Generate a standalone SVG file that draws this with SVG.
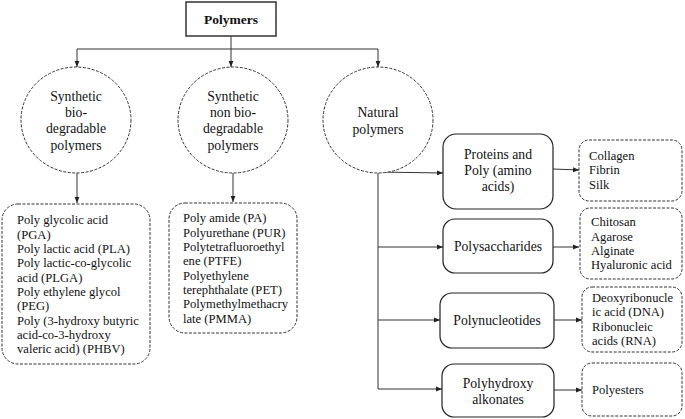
<svg xmlns="http://www.w3.org/2000/svg" width="685" height="419" viewBox="0 0 685 419" font-family="'Liberation Serif', 'Times New Roman', 'DejaVu Serif', serif">
<defs>
<marker id="ah" viewBox="0 0 10 10" refX="10" refY="5" markerWidth="6" markerHeight="6" orient="auto" markerUnits="userSpaceOnUse">
<path d="M0,1 L10,5 L0,9 z" fill="#222"/>
</marker>
<style>
text{font-family:'Liberation Serif','Times New Roman','DejaVu Serif',serif;fill:#111}
.c{font-size:13.7px;text-anchor:middle}
.l{font-size:12.6px}
.ell{fill:#fff;stroke:#333;stroke-width:1;stroke-dasharray:3 1.5}
.dbox{fill:#fff;stroke:#333;stroke-width:1;stroke-dasharray:3 1.5}
.sbox{fill:#fff;stroke:#222;stroke-width:1.2}
.ln{fill:none;stroke:#333;stroke-width:1}
</style>
</defs>
<rect width="685" height="419" fill="#fff"/>
<g id="connectors">
<path class="ln" d="M231,36 V49"/>
<path class="ln" d="M77,49 H378"/>
<path class="ln" d="M77,49 V67" marker-end="url(#ah)"/>
<path class="ln" d="M231,49 V67" marker-end="url(#ah)"/>
<path class="ln" d="M378,49 V67" marker-end="url(#ah)"/>
<path class="ln" d="M77,173 V203" marker-end="url(#ah)"/>
<path class="ln" d="M233,173 V202" marker-end="url(#ah)"/>
<path class="ln" d="M378,172 V389"/>
<path class="ln" d="M378,172 L443,173" marker-end="url(#ah)"/>
<path class="ln" d="M378,247 H443" marker-end="url(#ah)"/>
<path class="ln" d="M378,320 H440" marker-end="url(#ah)"/>
<path class="ln" d="M378,389 H442" marker-end="url(#ah)"/>
<path class="ln" d="M553,169 L579,170" marker-end="url(#ah)"/>
<path class="ln" d="M553,247 H579" marker-end="url(#ah)"/>
<path class="ln" d="M554,320 H582" marker-end="url(#ah)"/>
<path class="ln" d="M554,390 H582" marker-end="url(#ah)"/>
</g>
<g id="polymers">
<rect x="186" y="2" width="90" height="34" fill="#fff" stroke="#333" stroke-width="1.5"/>
<text x="231" y="24" font-size="13.5" font-weight="bold" text-anchor="middle">Polymers</text>
</g>
<g id="synthetic-bio">
<ellipse class="ell" cx="76" cy="120" rx="55" ry="53"/>
<text class="c" x="76" y="101">Synthetic</text>
<text class="c" x="76" y="117">bio-</text>
<text class="c" x="76" y="133">degradable</text>
<text class="c" x="76" y="150">polymers</text>
</g>
<g id="synthetic-nonbio">
<ellipse class="ell" cx="233" cy="120" rx="55" ry="53"/>
<text class="c" x="233" y="101">Synthetic</text>
<text class="c" x="233" y="117">non bio-</text>
<text class="c" x="233" y="133">degradable</text>
<text class="c" x="233" y="150">polymers</text>
</g>
<g id="natural">
<ellipse class="ell" cx="378" cy="120" rx="55" ry="53"/>
<text class="c" x="378" y="117">Natural</text>
<text class="c" x="378" y="134">polymers</text>
</g>
<g id="bio-list">
<rect class="dbox" x="2" y="204" width="148" height="160" rx="16"/>
<text class="l" x="17" y="224">Poly glycolic acid</text>
<text class="l" x="17" y="238.5">(PGA)</text>
<text class="l" x="17" y="253">Poly lactic acid (PLA)</text>
<text class="l" x="17" y="267">Poly lactic-co-glycolic</text>
<text class="l" x="17" y="281.5">acid (PLGA)</text>
<text class="l" x="17" y="296">Poly ethylene glycol</text>
<text class="l" x="17" y="310">(PEG)</text>
<text class="l" x="17" y="324.5">Poly (3-hydroxy butyric</text>
<text class="l" x="17" y="339">acid-co-3-hydroxy</text>
<text class="l" x="17" y="353">valeric acid) (PHBV)</text>
</g>
<g id="nonbio-list">
<rect class="dbox" x="169" y="203" width="128" height="130" rx="16"/>
<text class="l" x="183" y="222">Poly amide (PA)</text>
<text class="l" x="183" y="236.5">Polyurethane (PUR)</text>
<text class="l" x="183" y="251">Polytetrafluoroethyl</text>
<text class="l" x="183" y="265">ene (PTFE)</text>
<text class="l" x="183" y="279.5">Polyethylene</text>
<text class="l" x="183" y="294">terephthalate (PET)</text>
<text class="l" x="183" y="308">Polymethylmethacry</text>
<text class="l" x="183" y="322.5">late (PMMA)</text>
</g>
<g id="proteins">
<rect class="sbox" x="443" y="134" width="110" height="75" rx="13"/>
<text class="c" x="498" y="159">Proteins and</text>
<text class="c" x="498" y="175">Poly (amino</text>
<text class="c" x="498" y="191">acids)</text>
</g>
<g id="proteins-list">
<rect class="dbox" x="579" y="140" width="103" height="61" rx="10"/>
<text class="l" x="589" y="159.5">Collagen</text>
<text class="l" x="589" y="174">Fibrin</text>
<text class="l" x="589" y="188.5">Silk</text>
</g>
<g id="polysaccharides">
<rect class="sbox" x="443" y="219" width="110" height="54" rx="12"/>
<text class="c" x="498" y="251">Polysaccharides</text>
</g>
<g id="polysaccharides-list">
<rect class="dbox" x="580" y="208" width="102" height="71" rx="10"/>
<text class="l" x="591" y="226">Chitosan</text>
<text class="l" x="591" y="240.5">Agarose</text>
<text class="l" x="591" y="255">Alginate</text>
<text class="l" x="591" y="269">Hyaluronic acid</text>
</g>
<g id="polynucleotides">
<rect class="sbox" x="440" y="293" width="114" height="55" rx="12"/>
<text class="c" x="497" y="325">Polynucleotides</text>
</g>
<g id="polynucleotides-list">
<rect class="dbox" x="582" y="287" width="100" height="65" rx="10"/>
<text class="l" x="592" y="302">Deoxyribonucle</text>
<text class="l" x="592" y="316">ic acid (DNA)</text>
<text class="l" x="592" y="330.5">Ribonucleic</text>
<text class="l" x="592" y="344.5">acids (RNA)</text>
</g>
<g id="polyhydroxy">
<rect class="sbox" x="442" y="364" width="112" height="53" rx="12"/>
<text class="c" x="498" y="388">Polyhydroxy</text>
<text class="c" x="498" y="404">alkonates</text>
</g>
<g id="polyhydroxy-list">
<rect class="dbox" x="582" y="363" width="100" height="53" rx="10"/>
<text class="l" x="592" y="394">Polyesters</text>
</g>
</svg>
